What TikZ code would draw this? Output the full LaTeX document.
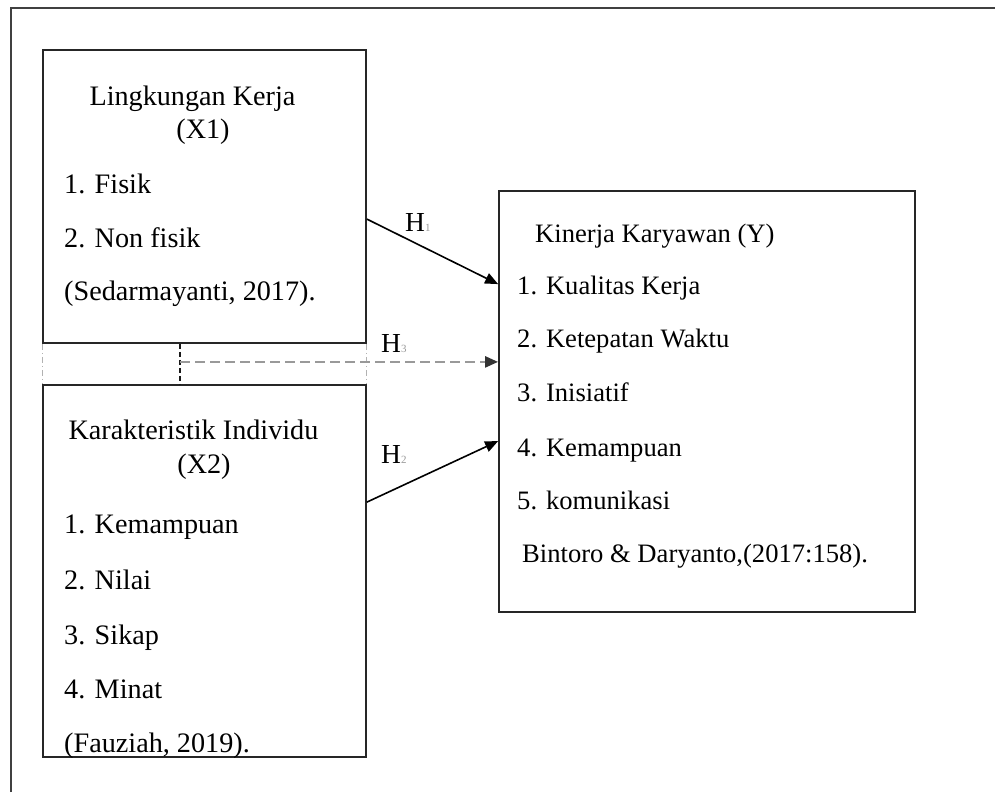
\documentclass[tikz,border=0pt]{standalone}
\usepackage{fontspec}
\setmainfont{Liberation Serif}
\usetikzlibrary{arrows.meta,calc}
\begin{document}
\begin{tikzpicture}[x=1pt,y=-1pt,
  box/.style={draw=black!85,line width=1.8pt,rectangle,inner sep=0pt},
  txt/.style={inner sep=0pt,anchor=base west,font=\fontsize{28.2}{34}\selectfont},
  ytxt/.style={inner sep=0pt,anchor=base west,font=\fontsize{26.6}{32}\selectfont},
  ttl/.style={inner sep=0pt,anchor=base,font=\fontsize{28.2}{34}\selectfont},
  arr/.style={line width=1.6pt,black,-{Triangle[length=13pt,width=11pt]}},
  darr/.style={line width=2.4pt,black!40,dash pattern=on 10pt off 5pt,-{Triangle[length=13pt,width=11pt,color=black!80,fill=black!80]}},
  lgray/.style={line width=0.9pt,black!30,dash pattern=on 6pt off 3pt on 1pt off 3pt},
  dkdash/.style={line width=1.4pt,black!90,dash pattern=on 5pt off 3pt},
  hlab/.style={inner sep=0pt,anchor=base west,font=\fontsize{27.5}{33}\selectfont},
  sub/.style={}
]
\useasboundingbox (0,0) rectangle (995,792);
% outer frame (top and left only visible)
\draw[line width=1.8pt,black!75] (11,792) -- (11,8) -- (995,8);

% boxes
\node[box,minimum width=323pt,minimum height=293pt] (x1) at (204.5,196.5) {};
\node[box,minimum width=323pt,minimum height=372pt] (x2) at (204.5,571) {};
\node[box,minimum width=416pt,minimum height=421pt] (y) at (707,401.5) {};

% X1 texts
\node[ttl] (t1a) at (192.5,105) {Lingkungan Kerja};
\node[ttl] (t1b) at (203,138) {(X1)};
\node[txt] (t1c) at (64,193) {1. Fisik};
\node[txt] (t1d) at (64,247) {2. Non fisik};
\node[txt] (t1e) at (64,300) {(Sedarmayanti, 2017).};

% X2 texts
\node[ttl] (t2a) at (193.5,439) {Karakteristik Individu};
\node[ttl] (t2b) at (204,473) {(X2)};
\node[txt] (t2c) at (64,533) {1. Kemampuan};
\node[txt] (t2d) at (64,589) {2. Nilai};
\node[txt] (t2e) at (64,644) {3. Sikap};
\node[txt] (t2f) at (64,698) {4. Minat};
\node[txt] (t2g) at (64,752) {(Fauziah, 2019).};

% Y texts
\node[ytxt] (t3a) at (535,242) {Kinerja Karyawan (Y)};
\node[ytxt] (t3b) at (517,294) {1. Kualitas Kerja};
\node[ytxt] (t3c) at (517,347) {2. Ketepatan Waktu};
\node[ytxt] (t3d) at (517,401) {3. Inisiatif};
\node[ytxt] (t3e) at (517,456) {4. Kemampuan};
\node[ytxt] (t3f) at (517,509) {5. komunikasi};
\node[ytxt] (t3g) at (522,562) {Bintoro \& Daryanto,(2017:158).};

% connector coordinates
\coordinate (a1) at ($(x1.north east)+(0,170)$);
\coordinate (b1) at ($(y.north west)+(0,94)$);
\coordinate (a2) at ($(x2.north east)+(0,118)$);
\coordinate (b2) at ($(y.north west)+(0,251)$);
\coordinate (j1) at ($(x1.south west)+(138,0)$);
\coordinate (j2) at ($(x2.north west)+(138,0)$);
\coordinate (j3) at ($(x1.south west)+(138,18)$);

% light gray dashed side lines between X1 and X2
\draw[lgray] (x1.south west) -- (x2.north west);
\draw[lgray] (x1.south east) -- (x2.north east);
% dark dashed vertical
\draw[dkdash] (j1) -- (j2);

% arrows
\draw[arr] (a1) -- (b1);
\draw[arr] (a2) -- (b2);
\draw[darr] (j3) -- (y.west |- j3);

% labels
\node[hlab] (h1) at (405,231) {H\textcolor{black!40}{\fontsize{11}{12}\selectfont 1}};
\node[hlab] (h3) at (381,352) {H\textcolor{black!40}{\fontsize{11}{12}\selectfont 3}};
\node[hlab] (h2) at (381,463) {H\textcolor{black!40}{\fontsize{11}{12}\selectfont 2}};
\end{tikzpicture}
\end{document}
